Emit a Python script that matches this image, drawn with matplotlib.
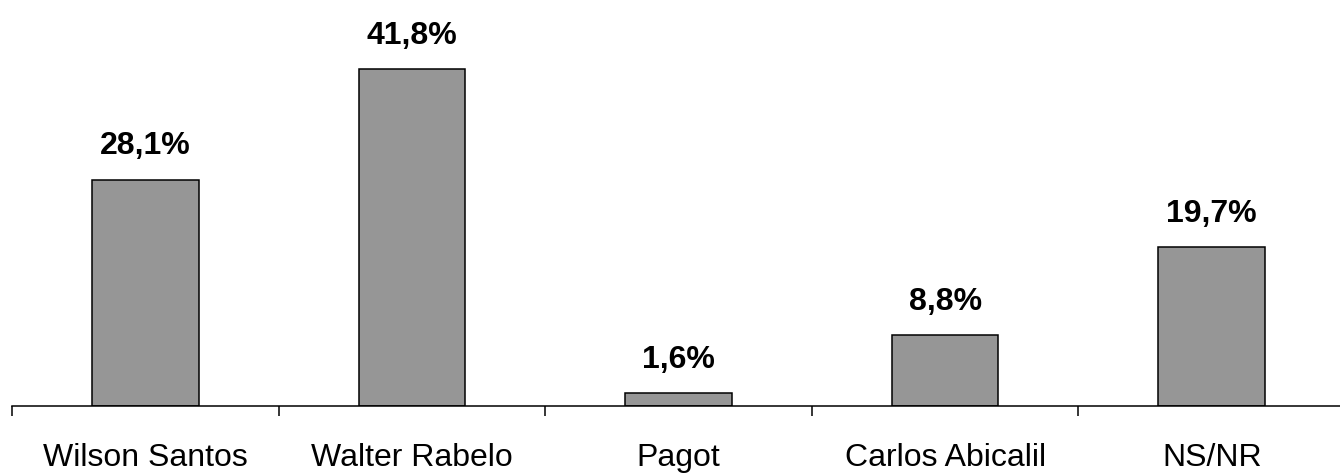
import matplotlib
matplotlib.use("Agg")
import matplotlib.pyplot as plt
import numpy as np

categories = ["Wilson Santos", "Walter Rabelo", "Pagot", "Carlos Abicalil", "NS/NR"]
values = [28.1, 41.8, 1.6, 8.8, 19.7]
value_labels = ["28,1%", "41,8%", "1,6%", "8,8%", "19,7%"]

plt.rcParams['font.family'] = ['Liberation Sans', 'DejaVu Sans']

W, H = 1340, 477
fig = plt.figure(figsize=(W / 100, H / 100), dpi=100)
ax = fig.add_axes([12 / W, 70 / H, 1333 / W, 403 / H])

x = np.arange(len(categories))
ax.bar(x, values, width=0.4, color="#969696", edgecolor="black", linewidth=1.1, zorder=2)

for xi, v, lab in zip(x, values, value_labels):
    ax.annotate(lab, (xi, v), xytext=(0, 19), textcoords="offset points",
                ha="center", va="baseline", fontsize=23, fontweight="bold")

ax.set_xlim(-0.5, len(categories) - 0.5)
ax.set_ylim(0, 50)
ax.set_xticks(x)
ax.set_xticklabels(categories, fontsize=23)
ax.tick_params(axis="x", which="major", length=0, pad=26)
ax.set_xticks(np.arange(-0.5, len(categories), 1.0), minor=True)
ax.tick_params(axis="x", which="minor", length=7, width=1.1, color="black")
ax.set_yticks([])
for s in ["top", "right", "left"]:
    ax.spines[s].set_visible(False)
ax.spines["bottom"].set_linewidth(1.1)

fig.savefig("out.png", dpi=100)
